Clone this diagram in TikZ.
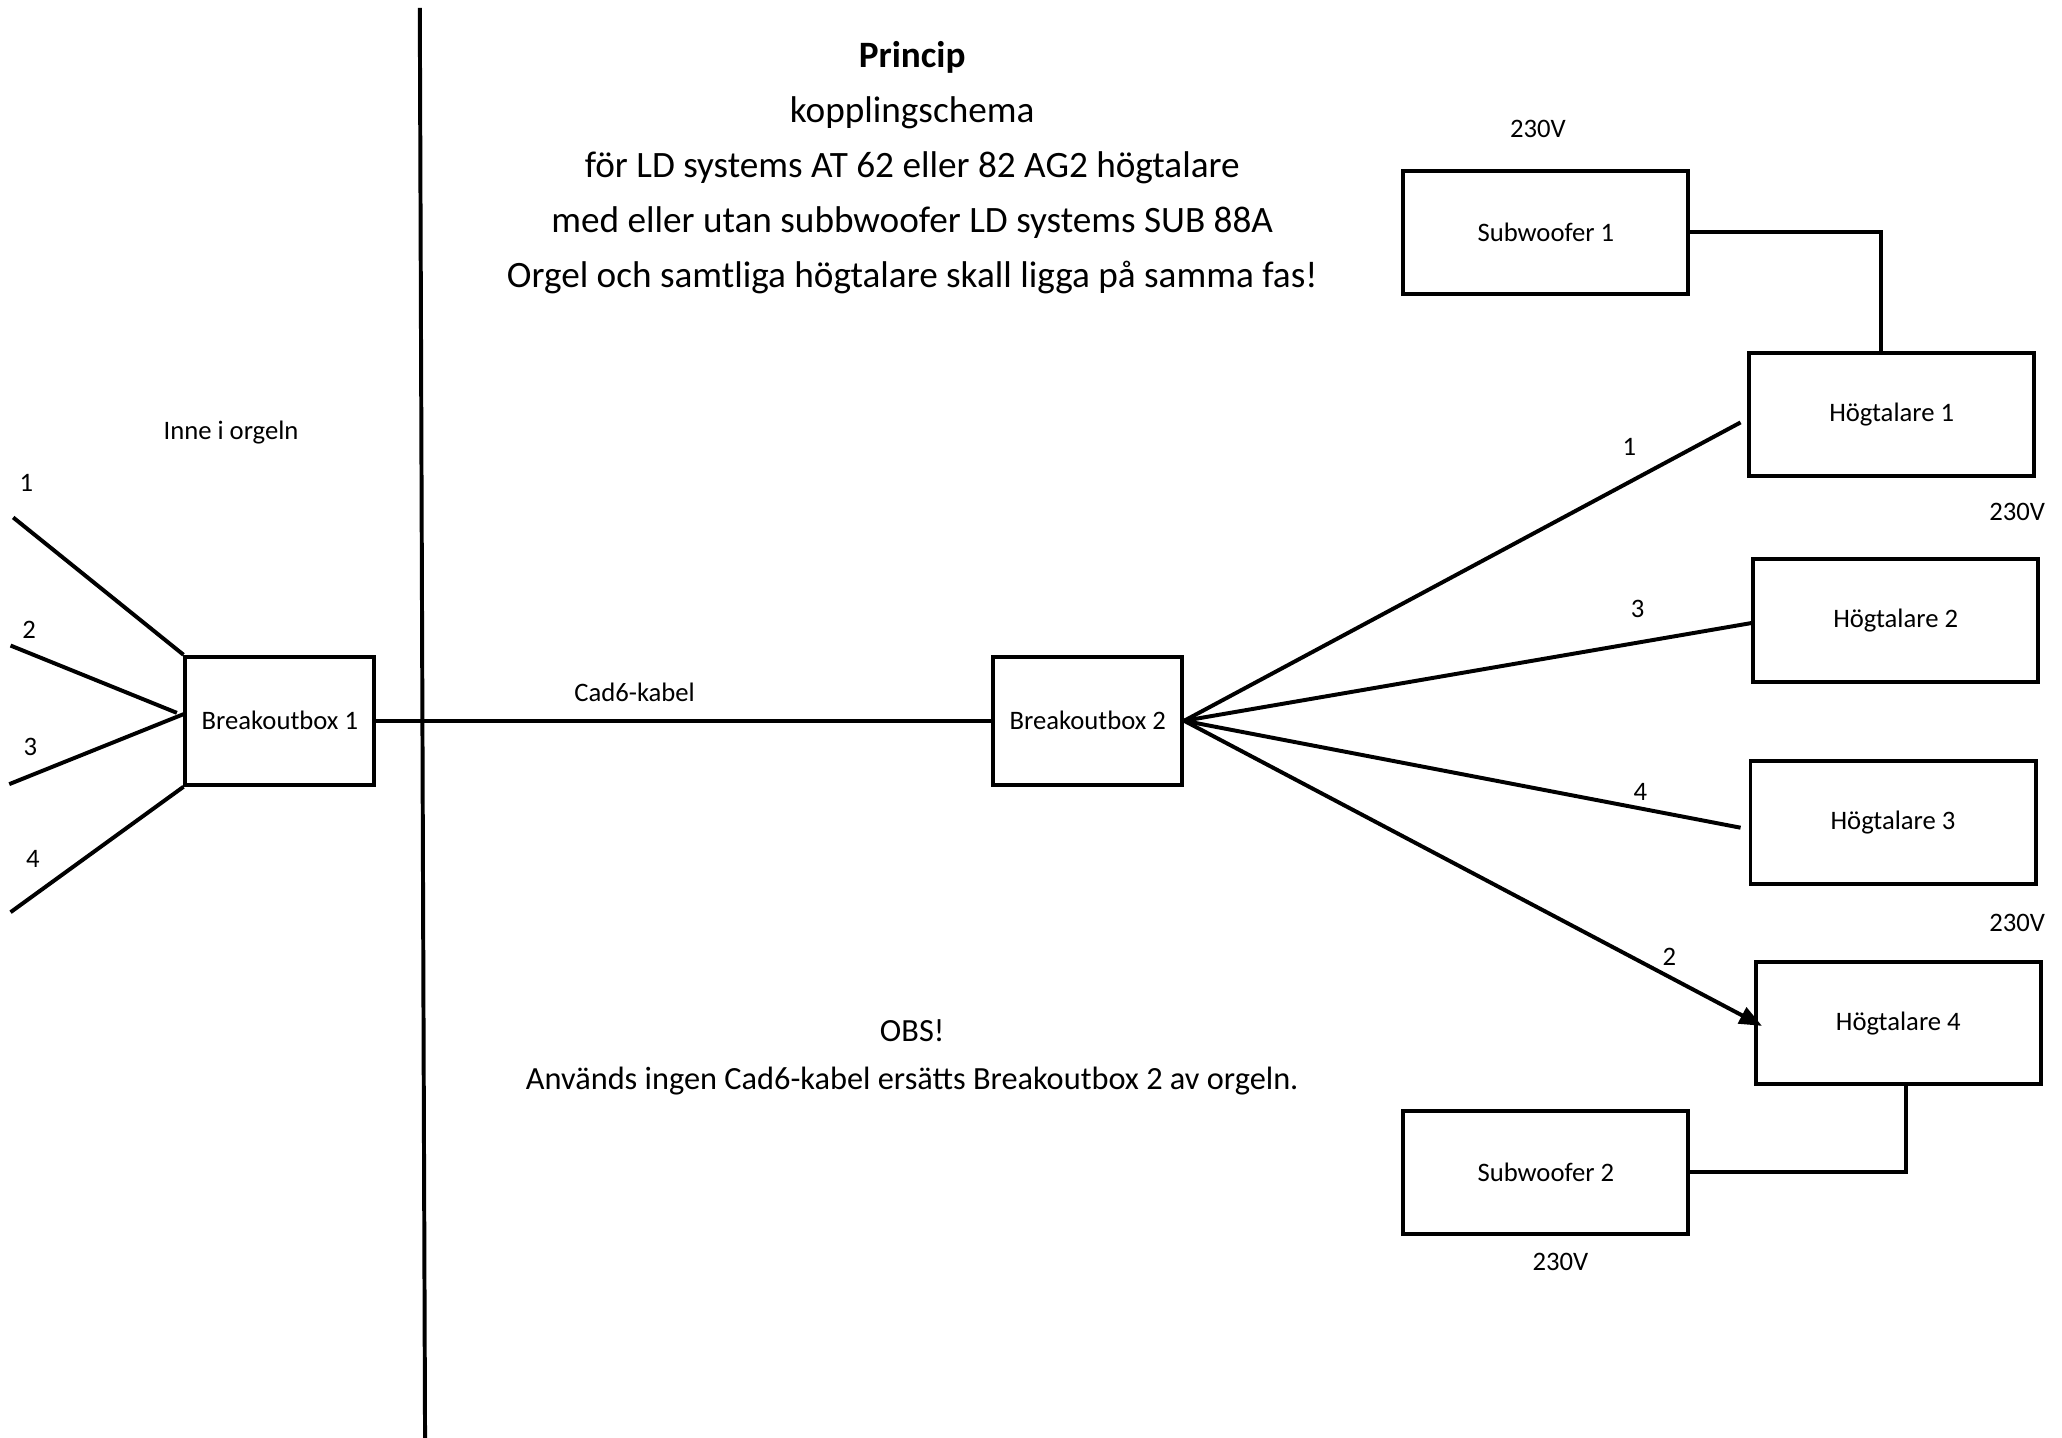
\documentclass[tikz,border=0pt]{standalone}
\usepackage{fontspec}
\setmainfont{Carlito}
\usetikzlibrary{arrows}

\begin{document}
\begin{tikzpicture}[x=1pt,y=1pt,line width=3pt,
  box/.style={draw, line width=3pt, minimum width=143pt, minimum height=97pt, font=\fontsize{20.2}{24}\selectfont},
  spk/.style={box, minimum width=216pt, minimum height=93pt},
  lbl/.style={font=\fontsize{20.2}{24}\selectfont}]
  \useasboundingbox (0,0) rectangle (1562,-1089);

  \node[font=\fontsize{28.2}{41.5}\selectfont, align=center] (title) at (691,-127)
    {\textbf{Princip}\\kopplingschema\\för LD systems AT 62 eller 82 AG2 högtalare\\
     med eller utan subbwoofer LD systems SUB 88A\\Orgel och samtliga högtalare skall ligga på samma fas!};
  \node[font=\fontsize{24.5}{36}\selectfont, align=center] (obs) at (691,-801)
    {OBS!\\Används ingen Cad6-kabel ersätts Breakoutbox 2 av orgeln.};

  \coordinate (top) at (318,-6);
  \coordinate (bot) at (322,-1092);
  \draw (top) -- (bot);

  \node[lbl] (inne) at (175,-328) {Inne i orgeln};
  \node[box] (bob1) at (212,-546) {Breakoutbox 1};
  \node[box] (bob2) at (824,-546) {Breakoutbox 2};

  \node[spk] (sub1) at (1171,-176) {Subwoofer 1};
  \node[spk] (hog1) at (1433,-314) {Högtalare 1};
  \node[spk] (hog2) at (1436,-470) {Högtalare 2};
  \node[spk] (hog3) at (1434,-623) {Högtalare 3};
  \node[spk] (hog4) at (1438,-775) {Högtalare 4};
  \node[spk] (sub2) at (1171,-888) {Subwoofer 2};

  \node[lbl] (v1) at (1165,-98) {230V};
  \node[lbl] (v2) at (1528,-388) {230V};
  \node[lbl] (v3) at (1528,-699) {230V};
  \node[lbl] (v4) at (1182,-956) {230V};

  \coordinate (w1) at (10,-392);
  \coordinate (w2) at (8,-489);
  \coordinate (w3) at (7,-594);
  \coordinate (w4) at (8,-691);
  \node[lbl] (n1) at (20,-366) {1};
  \node[lbl] (n2) at (22,-477) {2};
  \node[lbl] (n3) at (23,-566) {3};
  \node[lbl] (n4) at (25,-651) {4};
  \draw (w1) -- (bob1.north west);
  \draw (w2) -- ([xshift=-5pt,yshift=6pt]bob1.west);
  \draw (w3) -- ([yshift=5pt]bob1.west);
  \draw (w4) -- (bob1.south west);

  \draw (bob1.east) -- node[lbl,pos=0.42,above=10pt] {Cad6-kabel} (bob2.west);

  \draw (bob2.east) -- node[lbl,pos=0.8,above=15pt] {1} ([xshift=-5pt,yshift=-6pt]hog1.west);
  \draw (bob2.east) -- node[lbl,pos=0.8,above=14pt] {3} ([yshift=-2pt]hog2.west);
  \draw (bob2.east) -- node[lbl,pos=0.82,above=1pt] {4} ([xshift=-6pt,yshift=-4pt]hog3.west);
  \draw[-triangle 45] (bob2.east) -- node[lbl,pos=0.84,above=4pt] {2} ([xshift=6pt,yshift=-2pt]hog4.west);

  \draw (sub1.east) -| ([xshift=-8pt]hog1.north);
  \draw (sub2.east) -| ([xshift=6pt]hog4.south);
\end{tikzpicture}
\end{document}
